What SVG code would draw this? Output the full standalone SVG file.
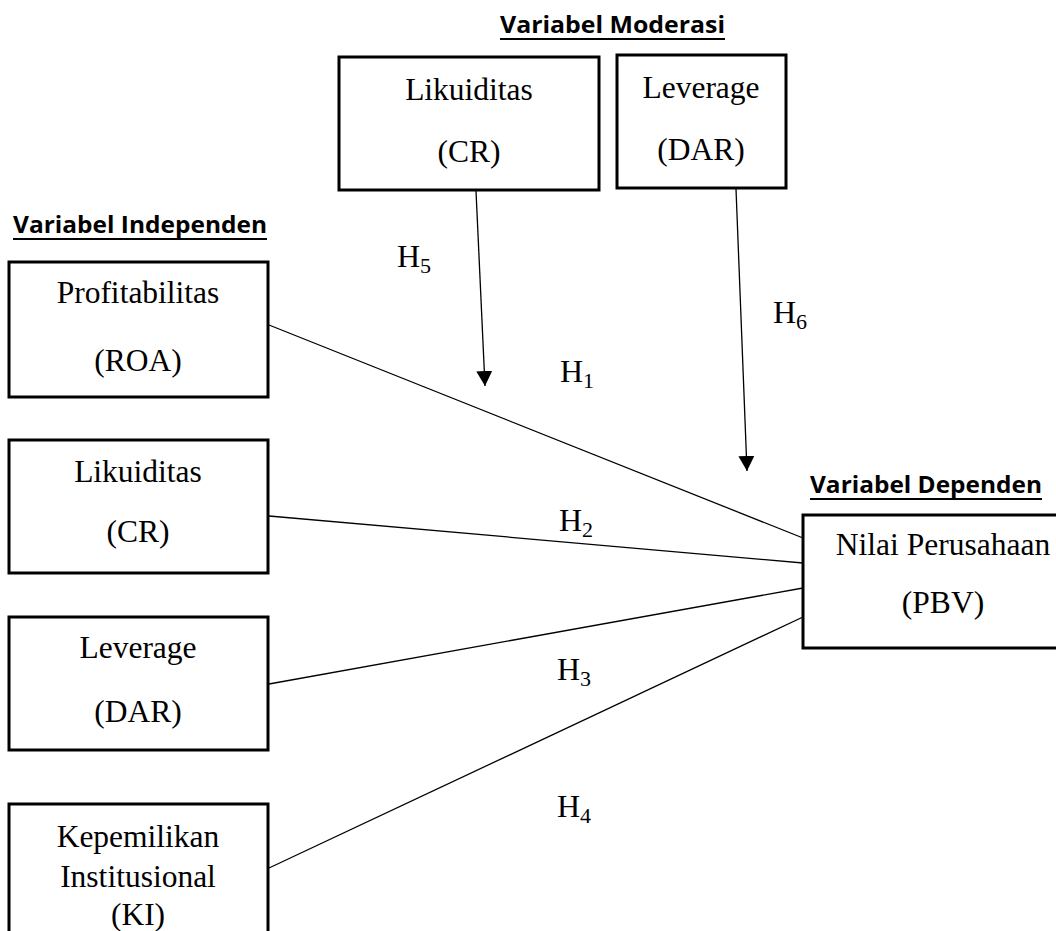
<svg xmlns="http://www.w3.org/2000/svg" width="1056" height="931" viewBox="0 0 1056 931">
<style>
.box{fill:#fff;stroke:#000;stroke-width:3}
.t{font-family:"Liberation Serif","Times New Roman",serif;font-size:31.5px;fill:#000;text-anchor:middle}
.title{font-family:"Open Sans","Liberation Sans",sans-serif;font-weight:bold;font-size:23px;fill:#000}
.ul{stroke:#000;stroke-width:2}
.h{font-family:"Liberation Serif","Times New Roman",serif;font-size:32px;fill:#000}
.sub{font-size:22px}
.c{stroke:#000;stroke-width:1.3;fill:none}
</style>
<defs>
<marker id="arr" markerUnits="userSpaceOnUse" markerWidth="16" markerHeight="16" viewBox="0 0 16 16" refX="15" refY="8" orient="auto">
<path d="M0,0 L15,8 L0,16 Z" fill="#000"/>
</marker>
</defs>
<rect width="1056" height="931" fill="#fff"/>

<g id="title-moderasi">
<text class="title" x="500" y="33" textLength="225" lengthAdjust="spacingAndGlyphs">Variabel Moderasi</text>
<line class="ul" x1="500" y1="39" x2="725" y2="39"/>
</g>
<g id="title-independen">
<text class="title" x="13" y="233" textLength="254" lengthAdjust="spacingAndGlyphs">Variabel Independen</text>
<line class="ul" x1="13" y1="239" x2="267" y2="239"/>
</g>
<g id="title-dependen">
<text class="title" x="810" y="493" textLength="232" lengthAdjust="spacingAndGlyphs">Variabel Dependen</text>
<line class="ul" x1="810" y1="499" x2="1042" y2="499"/>
</g>

<g id="connectors">
<line class="c" x1="269" y1="325" x2="803" y2="538"/>
<line class="c" x1="269" y1="516" x2="803" y2="563"/>
<line class="c" x1="269" y1="684" x2="803" y2="588"/>
<line class="c" x1="269" y1="868" x2="803" y2="617"/>
<line class="c" x1="476" y1="191" x2="485" y2="386" marker-end="url(#arr)"/>
<line class="c" x1="736" y1="189" x2="747" y2="471" marker-end="url(#arr)"/>
</g>

<g id="labels">
<text class="h" x="397" y="267">H<tspan class="sub" dy="6">5</tspan></text>
<text class="h" x="560" y="382">H<tspan class="sub" dy="6">1</tspan></text>
<text class="h" x="773" y="323">H<tspan class="sub" dy="6">6</tspan></text>
<text class="h" x="559" y="531">H<tspan class="sub" dy="6">2</tspan></text>
<text class="h" x="557" y="680">H<tspan class="sub" dy="6">3</tspan></text>
<text class="h" x="557" y="817">H<tspan class="sub" dy="6">4</tspan></text>
</g>

<g id="node-mod-likuiditas">
<rect class="box" x="339" y="57" width="260" height="133"/>
<text class="t" x="469" y="100">Likuiditas</text>
<text class="t" x="469" y="162">(CR)</text>
</g>
<g id="node-mod-leverage">
<rect class="box" x="617" y="55" width="169" height="133"/>
<text class="t" x="701" y="98">Leverage</text>
<text class="t" x="701" y="160">(DAR)</text>
</g>
<g id="node-profitabilitas">
<rect class="box" x="9" y="262" width="259" height="135"/>
<text class="t" x="138" y="303">Profitabilitas</text>
<text class="t" x="138" y="371">(ROA)</text>
</g>
<g id="node-likuiditas">
<rect class="box" x="9" y="440" width="259" height="133"/>
<text class="t" x="138" y="482">Likuiditas</text>
<text class="t" x="138" y="542">(CR)</text>
</g>
<g id="node-leverage">
<rect class="box" x="9" y="617" width="259" height="133"/>
<text class="t" x="138" y="658">Leverage</text>
<text class="t" x="138" y="722">(DAR)</text>
</g>
<g id="node-kepemilikan">
<rect class="box" x="9" y="804" width="259" height="140"/>
<text class="t" x="138" y="847">Kepemilikan</text>
<text class="t" x="138" y="887">Institusional</text>
<text class="t" x="138" y="925">(KI)</text>
</g>
<g id="node-nilai">
<rect class="box" x="803" y="515" width="280" height="133"/>
<text class="t" x="943" y="555">Nilai Perusahaan</text>
<text class="t" x="943" y="613">(PBV)</text>
</g>
</svg>
